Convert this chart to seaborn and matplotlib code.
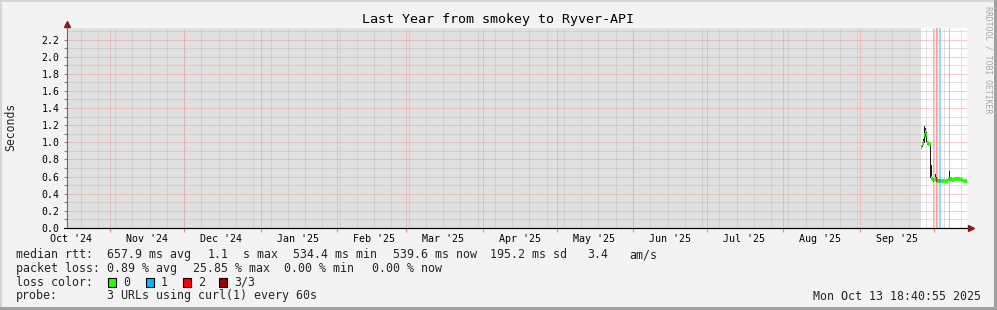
import numpy as np
import pandas as pd
import matplotlib
matplotlib.use("Agg")
import matplotlib.pyplot as plt
import matplotlib.dates as mdates
from matplotlib.ticker import NullFormatter, FixedLocator, FormatStrFormatter
from matplotlib.patches import Rectangle
import seaborn as sns

# ---------------- data ----------------
TITLE = "Last Year from smokey to Ryver-API"
Y_LABEL = "Seconds"
WATERMARK = "RRDTOOL / TOBI OETIKER"
TIMESTAMP = "Mon Oct 13 18:40:55 2025"
WINDOW_END = "2025-10-14 11:00"
WINDOW_DAYS = 365
FIRST_SAMPLE = "2025-09-25 15:00"
SAMPLE_STEP_HOURS = 10

# median round trip time per sample (seconds)
median_rtt = [0.95, 0.98, 0.99, 1.09, 1.12, 1.09, 0.99, 0.99, 0.98, 0.98,
              0.58, 0.57, 0.56, 0.56, 0.57, 0.56, 0.55, 0.55, 0.55, 0.55,
              0.55, 0.55, 0.55, 0.55, 0.55, 0.55, 0.55, 0.56, 0.57, 0.57,
              0.57, 0.56, 0.56, 0.57, 0.57, 0.57, 0.57, 0.57, 0.57, 0.56,
              0.56, 0.55, 0.55, 0.55, 0.55]
# smoke (spread of the pings) upper / lower bounds
smoke_hi = [0.97, 1.00, 1.04, 1.19, 1.17, 1.12, 1.01, 1.00, 0.99, 0.99,
            0.73, 0.60, 0.58, 0.58, 0.63, 0.60, 0.57, 0.57, 0.57, 0.56,
            0.56, 0.56, 0.57, 0.56, 0.56, 0.56, 0.57, 0.58, 0.66, 0.59,
            0.58, 0.58, 0.57, 0.58, 0.59, 0.58, 0.58, 0.58, 0.58, 0.57,
            0.57, 0.56, 0.56, 0.56, 0.56]
smoke_lo = [0.93, 0.95, 0.97, 0.99, 1.06, 1.00, 0.97, 0.97, 0.96, 0.58,
            0.56, 0.55, 0.55, 0.55, 0.55, 0.55, 0.54, 0.54, 0.54, 0.54,
            0.54, 0.54, 0.54, 0.54, 0.54, 0.54, 0.54, 0.55, 0.55, 0.55,
            0.55, 0.55, 0.55, 0.56, 0.56, 0.56, 0.56, 0.56, 0.56, 0.55,
            0.55, 0.54, 0.54, 0.54, 0.54]
# lost pings (of 3) per sample
loss = [0, 0, 0, 0, 0, 0, 0, 0, 0, 0,
        0, 0, 1, 0, 0, 2, 1, 0, 1, 1,
        0, 0, 0, 0, 0, 0, 0, 0, 1, 0,
        0, 0, 0, 0, 0, 0, 0, 0, 0, 0,
        0, 0, 0, 0, 0]

loss_levels = ["0", "1", "2", "3/3"]
loss_colors = ["#26ff00", "#00b8ff", "#ff0000", "#a00000"]
loss_bg_colors = ["#ffffff", "#96d8ff", "#ffa0a0", "#e08080"]

Y_TOP = 2.338
y_major_ticks = [0.0, 0.2, 0.4, 0.6, 0.8, 1.0, 1.2, 1.4, 1.6, 1.8, 2.0, 2.2]
y_minor_ticks = [0.1, 0.3, 0.5, 0.7, 0.9, 1.1, 1.3, 1.5, 1.7, 1.9, 2.1, 2.3]

# legend rows: (x pixel, text) pieces
legend_median = [(16, "median rtt:"), (107.3, "657.9 ms avg"), (207.5, "1.1"),
                 (242.5, "s max"), (293.0, "534.4 ms min"), (392.7, "539.6 ms now"),
                 (490.0, "195.2 ms sd"), (587.0, "3.4"), (629.3, "am/s")]
legend_loss = [(16, "packet loss:"), (107.3, "0.89 % avg"), (192.7, "25.85 % max"),
               (284.0, "0.00 % min"), (372.0, "0.00 % now")]
legend_color_label = "loss color:"
legend_probe = [(16, "probe:"), (107.3, "3 URLs using curl(1) every 60s")]

# ---------------- figure ----------------
W, H = 997, 310
sns.set_theme(style="white")
plt.rcParams["font.family"] = ["DejaVu Sans Mono", "DejaVu Sans"]

fig = plt.figure(figsize=(W / 100, H / 100), dpi=100, facecolor="#f3f3f3")
AX_L, AX_R, AX_T, AX_B = 67, 967, 27.7, 228
ax = fig.add_axes([AX_L / W, (H - AX_B) / H, (AX_R - AX_L) / W, (AX_B - AX_T) / H])
ax.set_facecolor("white")
ax.xaxis_date()

end = pd.Timestamp(WINDOW_END)
start = end - pd.Timedelta(days=WINDOW_DAYS)
x0, x1 = mdates.date2num(start), mdates.date2num(end)
times = pd.date_range(FIRST_SAMPLE, periods=len(median_rtt), freq=f"{SAMPLE_STEP_HOURS}h")
xs = mdates.date2num(times)
step = SAMPLE_STEP_HOURS / 24.0

# unknown (no data) region
ax.axvspan(x0, xs[0], color="#e0e0e0", lw=0, zorder=0.5)

# loss background bars
loss_arr = np.array(loss)
for lv in (1, 2, 3):
    sel = loss_arr == lv
    if sel.any():
        ax.bar(xs[sel], Y_TOP, bottom=0, width=step, align="edge",
               color=loss_bg_colors[lv], lw=0, zorder=1)

# grid
dot = (0, (1, 1))
weeks = mdates.date2num(pd.date_range(start.normalize(), end, freq="W-SUN"))
months = mdates.date2num(pd.date_range(start.normalize(), end, freq="MS"))
ax.vlines(weeks, 0, Y_TOP, colors="#c2c2c2", linestyles=dot, lw=0.72, zorder=2)
ax.vlines(months, 0, Y_TOP, colors="#f39a9a", linestyles=dot, lw=0.72, zorder=2.1)
ax.hlines(y_minor_ticks, x0, x1, colors="#c2c2c2", linestyles=dot, lw=0.72, zorder=2)
ax.hlines(y_major_ticks[1:], x0, x1, colors="#f39a9a", linestyles=dot, lw=0.72, zorder=2.1)

# smoke
hi = np.array(smoke_hi)
lo = np.array(smoke_lo)
ax.bar(xs, hi - lo, bottom=lo, width=step, align="edge", color="#1e1e1e", lw=0, zorder=3)

# median, coloured by loss (one short segment per sample)
rows = []
for i, (t, m, l) in enumerate(zip(xs, median_rtt, loss)):
    rows.append({"x": t, "y": m, "seg": i, "loss": loss_levels[l]})
    rows.append({"x": t + step, "y": m, "seg": i, "loss": loss_levels[l]})
seg = pd.DataFrame(rows)
sns.lineplot(data=seg, x="x", y="y", units="seg", estimator=None, hue="loss",
             palette=dict(zip(loss_levels, loss_colors)), legend=False,
             lw=2.7, solid_capstyle="butt", ax=ax, zorder=4)

ax.set_xlim(x0, x1)
ax.set_ylim(0, Y_TOP)
ax.set_xlabel("")
ax.set_ylabel("")

# x ticks: month boundaries (marks) + mid-month labels
ax.xaxis.set_major_locator(mdates.MonthLocator(bymonthday=1))
ax.xaxis.set_major_formatter(NullFormatter())
ax.xaxis.set_minor_locator(mdates.MonthLocator(bymonthday=16))
ax.xaxis.set_minor_formatter(mdates.DateFormatter("%b '%y"))
ax.tick_params(axis="x", which="major", length=3, width=0.8, color="#f08888",
               direction="out", bottom=True)
ax.tick_params(axis="x", which="minor", length=0, pad=4.2, labelsize=7.2,
               labelcolor="black", bottom=True)

# y ticks
ax.yaxis.set_major_locator(FixedLocator(y_major_ticks))
ax.yaxis.set_minor_locator(FixedLocator(y_minor_ticks[:-1]))
ax.yaxis.set_major_formatter(FormatStrFormatter("%.1f"))
ax.tick_params(axis="y", which="both", length=2, width=0.8, color="#808080",
               direction="out", left=True)
ax.tick_params(axis="y", which="major", labelsize=7.1, pad=3.5, labelcolor="black")

for s in ("top", "right"):
    ax.spines[s].set_visible(False)
ax.spines["left"].set_color("#6a6a6a")
ax.spines["left"].set_linewidth(0.8)
ax.spines["bottom"].set_color("black")
ax.spines["bottom"].set_linewidth(0.8)
ax.spines["left"].set_zorder(5)
ax.spines["bottom"].set_zorder(5)

# axis extensions and arrows
ax.plot([0, 0], [1, 1.012], transform=ax.transAxes, color="#6a6a6a", lw=0.8, clip_on=False)
ax.plot([-0.003, 1.003], [0, 0], transform=ax.transAxes, color="black", lw=0.8, clip_on=False)
ax.plot([0], [1.019], marker="^", ms=4.2, color="#8b1a1a", transform=ax.transAxes,
        clip_on=False, mec="#8b1a1a")
ax.plot([1.0045], [0], marker=">", ms=4.2, color="#8b1a1a", transform=ax.transAxes,
        clip_on=False, mec="#8b1a1a")

# ---------------- texts ----------------
def fx(px):
    return px / W

def fy(py):
    return 1 - py / H

fig.text(fx(497.5), fy(19.3), TITLE, ha="center", va="center", fontsize=9.6, color="black")
fig.text(fx(10.5), fy(127), Y_LABEL, ha="center", va="center", rotation=90, fontsize=8.3)
fig.text(fx(987.5), fy(60), WATERMARK, ha="center", va="center", rotation=270,
         fontsize=5.9, color="#a8a8a8")

FS = 8.35
for px, txt in legend_median:
    fig.text(fx(px), fy(254.5), txt, ha="left", va="center", fontsize=FS)
for px, txt in legend_loss:
    fig.text(fx(px), fy(268.3), txt, ha="left", va="center", fontsize=FS)
fig.text(fx(16), fy(282.3), legend_color_label, ha="left", va="center", fontsize=FS)
for px, txt in legend_probe:
    fig.text(fx(px), fy(296.0), txt, ha="left", va="center", fontsize=FS)
fig.text(fx(980.5), fy(296.0), TIMESTAMP, ha="right", va="center", fontsize=FS)

box_x = [108.3, 145.7, 182.7, 219.3]
for bx, lab, col in zip(box_x, loss_levels, loss_colors):
    fig.add_artist(Rectangle((fx(bx), fy(286.7)), 8 / W, 8.4 / H, transform=fig.transFigure,
                             facecolor=col, edgecolor="black", lw=0.8))
    fig.text(fx(bx + 15), fy(282.3), lab, ha="left", va="center", fontsize=FS)

# frame (3d border)
fig.add_artist(Rectangle((0, 1 - 2 / H), 1, 2 / H, transform=fig.transFigure,
                         facecolor="#d6d6d6", lw=0))
fig.add_artist(Rectangle((0, 0), 2 / W, 1, transform=fig.transFigure,
                         facecolor="#d6d6d6", lw=0))
fig.add_artist(Rectangle((0, 0), 1, 3 / H, transform=fig.transFigure,
                         facecolor="#a0a0a0", lw=0))
fig.add_artist(Rectangle((1 - 3 / W, 0), 3 / W, 1, transform=fig.transFigure,
                         facecolor="#a0a0a0", lw=0))

fig.savefig("out.png", dpi=100, facecolor=fig.get_facecolor())
